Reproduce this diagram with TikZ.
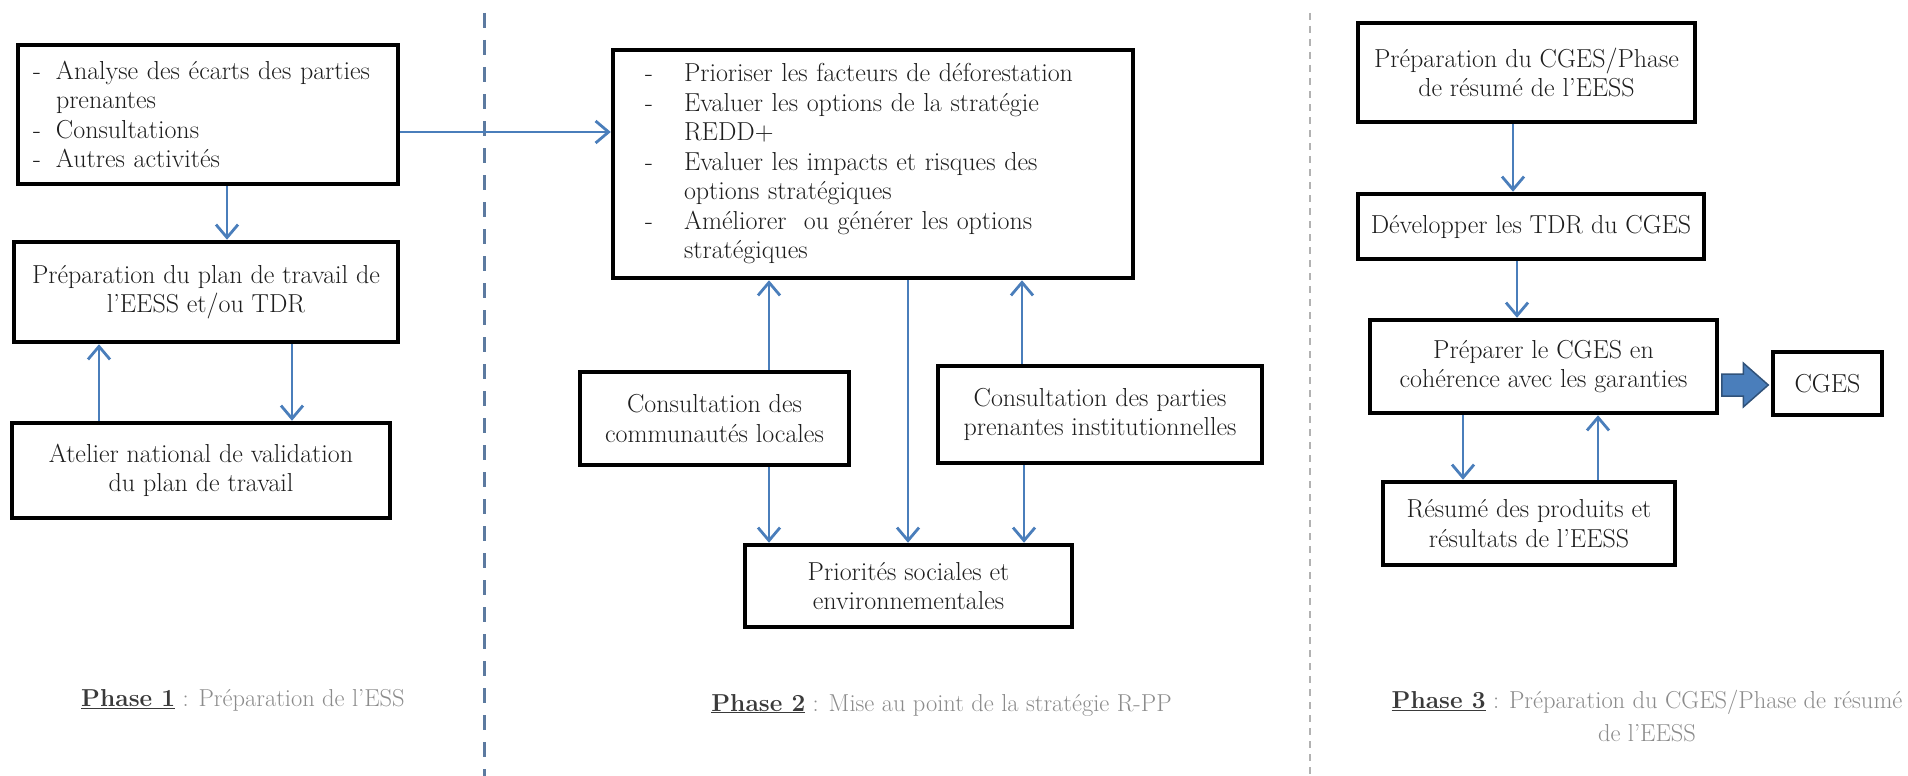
\documentclass[tikz,border=0pt]{standalone}
\usepackage{fontspec}
\usetikzlibrary{arrows.meta,calc}
\definecolor{arrowblue}{RGB}{74,126,187}
\definecolor{dashblue}{RGB}{92,122,160}
\definecolor{captiongray}{RGB}{140,140,140}
\definecolor{captiondark}{RGB}{58,58,58}
\definecolor{boxtext}{RGB}{30,30,30}
\begin{document}
\begin{tikzpicture}[x=1pt,y=-1pt,
  box/.style={draw=black,line width=4.5pt,inner sep=0pt,align=center,
    text=boxtext,font=\fontsize{26}{29.5}\selectfont},
  conn/.style={draw=arrowblue,line width=2.8pt,
    -{Straight Barb[length=13pt,width=22pt,line width=2.8pt]}},
  blockarrow/.style={fill=arrowblue,draw=arrowblue!65!black,line width=1.5pt,line join=miter},
  caption/.style={align=center,text=captiongray,font=\fontsize{24.5}{33}\selectfont}
]
\useasboundingbox (0,0) rectangle (1908,776);
\fill[white] (0,0) rectangle (1908,776);
% separators
\draw[dashblue,line width=3pt,dash pattern=on 15pt off 12pt] (484,13) -- (484,776);
\draw[gray!60,line width=1.6pt,dash pattern=on 7pt off 6pt] (1310,13) -- (1310,776);

% Phase 1
\node[box,minimum height=139pt,inner xsep=15pt,text width=350pt,align=left] (A) at (208,114.5)
  {\makebox[23pt][l]{-}Analyse des écarts des parties\\
   \hspace*{23pt}prenantes\\
   \makebox[23pt][l]{-}Consultations\\
   \makebox[23pt][l]{-}Autres activités};
\node[box,minimum width=384pt,minimum height=100pt] (B) at (206,292)
  {Préparation du plan de travail de\\l'EESS et/ou TDR};
\node[box,minimum width=378pt,minimum height=95pt] (C) at (201,470.5)
  {Atelier national de validation\\du plan de travail};

% Phase 2
\node[box,minimum height=228pt,inner xsep=32pt,text width=456pt,align=left] (D) at (873,164)
  {\makebox[39pt][l]{-}Prioriser les facteurs de déforestation\\
   \makebox[39pt][l]{-}Evaluer les options de la stratégie\\
   \hspace*{39pt}REDD+\\
   \makebox[39pt][l]{-}Evaluer les impacts et risques des\\
   \hspace*{39pt}options stratégiques\\
   \makebox[39pt][l]{-}Améliorer\ \ ou générer les options\\
   \hspace*{39pt}stratégiques};
\node[box,minimum width=269pt,minimum height=93pt] (E) at (714.5,418.5)
  {Consultation des\\communautés locales};
\node[box,minimum width=324pt,minimum height=97pt] (F) at (1100,414.5)
  {Consultation des parties\\prenantes institutionnelles};
\node[box,minimum width=327pt,minimum height=82pt] (G) at (908.5,586)
  {Priorités sociales et\\environnementales};

% Phase 3
\node[box,minimum width=337pt,minimum height=99pt] (H) at (1526.5,72.5)
  {Préparation du CGES/Phase\\de résumé de l'EESS};
\node[box,minimum width=346pt,minimum height=65pt] (I) at (1531,226.5)
  {Développer les TDR du CGES};
\node[box,minimum width=347pt,minimum height=93pt] (J) at (1543.5,366.5)
  {Préparer le CGES en\\cohérence avec les garanties};
\node[box,minimum width=109pt,minimum height=63pt] (K) at (1827.5,383.5)
  {CGES};
\node[box,minimum width=292pt,minimum height=83pt] (L) at (1529,523.5)
  {Résumé des produits et\\résultats de l'EESS};

% connectors phase 1
\draw[conn] (A.south -| 227,0) -- (B.north -| 227,0);
\draw[conn] (C.north -| 99,0) -- (B.south -| 99,0);
\draw[conn] (B.south -| 292,0) -- (C.north -| 292,0);
\draw[conn] (A.east |- 0,132) -- (D.west |- 0,132);

% connectors phase 2
\draw[conn] (E.north -| 769,0) -- (D.south -| 769,0);
\draw[conn] (F.north -| 1022,0) -- (D.south -| 1022,0);
\draw[conn] (D.south -| 908,0) -- (G.north -| 908,0);
\draw[conn] (E.south -| 769,0) -- (G.north -| 769,0);
\draw[conn] (F.south -| 1024,0) -- (G.north -| 1024,0);

% connectors phase 3
\draw[conn] (H.south -| 1513,0) -- (I.north -| 1513,0);
\draw[conn] (I.south -| 1517,0) -- (J.north -| 1517,0);
\draw[conn] (J.south -| 1463,0) -- (L.north -| 1463,0);
\draw[conn] (L.north -| 1598,0) -- (J.south -| 1598,0);
% block arrow J -> K
\coordinate (bs) at ($(J.east |- 0,385)+(2.5,0)$);
\coordinate (bt) at ($(K.west |- 0,385)+(-2.5,0)$);
\draw[blockarrow] ($(bs)+(0,-11)$) -- ($(bt)+(-25,-11)$) -- ($(bt)+(-25,-22)$)
  -- (bt) -- ($(bt)+(-25,22)$) -- ($(bt)+(-25,11)$) -- ($(bs)+(0,11)$) -- cycle;

% captions
\node[caption] (P1) at (243,700)
  {\textcolor{captiondark}{\underline{\textbf{Phase 1}}} : Préparation de l'ESS};
\node[caption] (P2) at (941.5,705)
  {\textcolor{captiondark}{\underline{\textbf{Phase 2}}} : Mise au point de la stratégie R-PP};
\node[caption] (P3) at (1647,716.5)
  {\textcolor{captiondark}{\underline{\textbf{Phase 3}}} : Préparation du CGES/Phase de résumé\\de l'EESS};
\end{tikzpicture}
\end{document}
